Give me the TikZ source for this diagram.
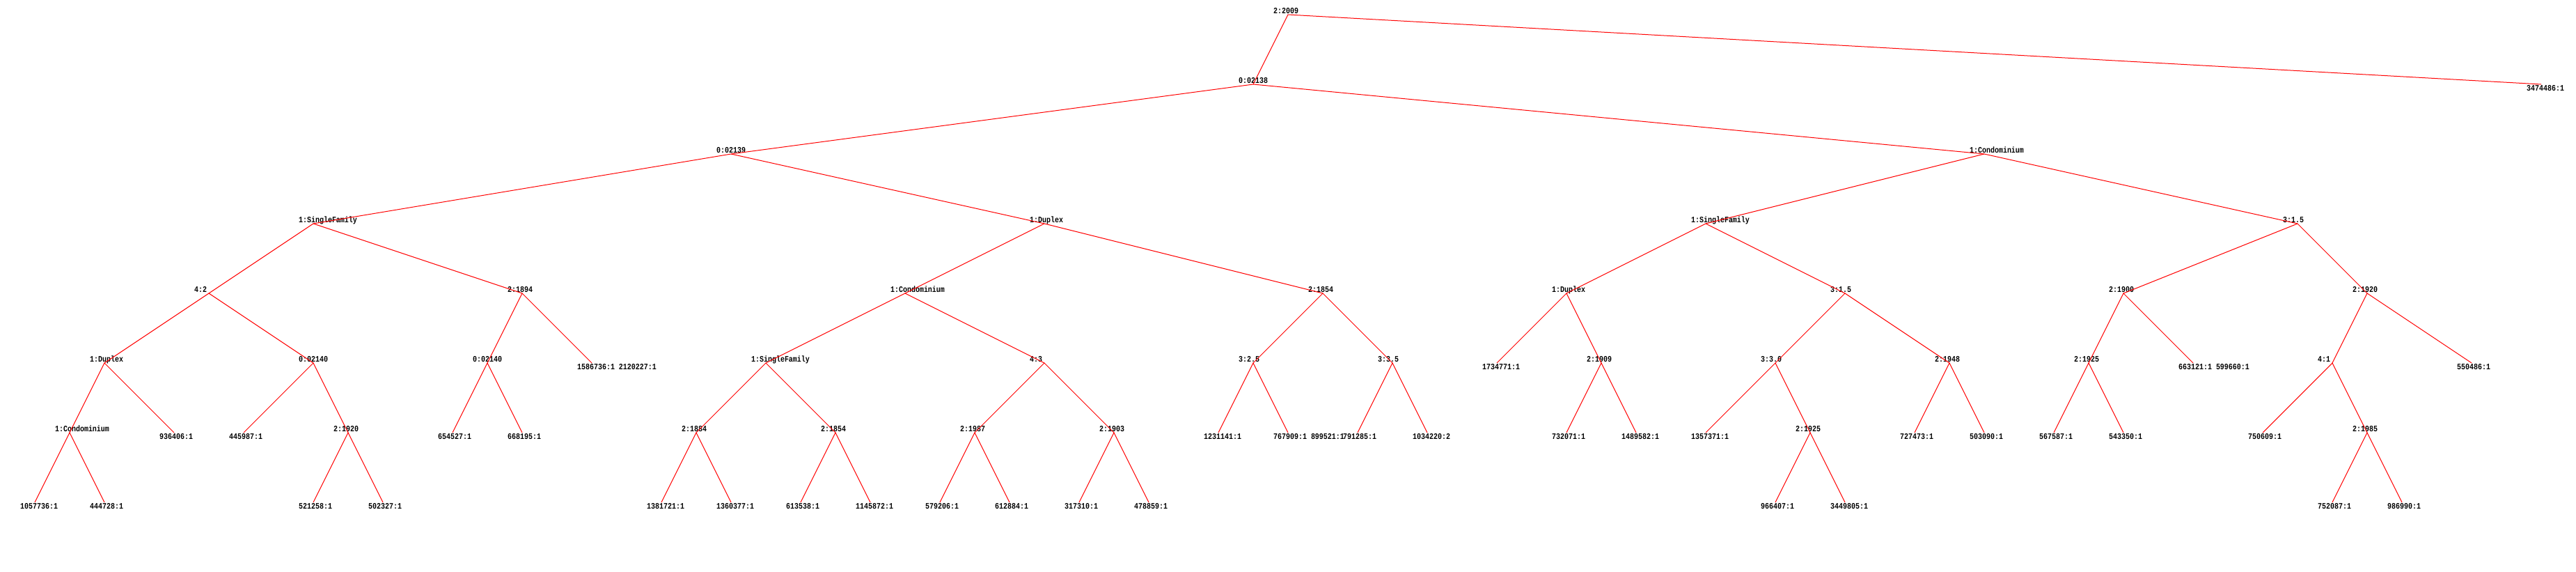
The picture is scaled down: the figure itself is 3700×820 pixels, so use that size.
\documentclass[tikz,border=0pt]{standalone}
\usepackage{fontspec}
\newfontfamily\treefont[FakeStretch=0.83]{Liberation Mono}
\begin{document}
\begin{tikzpicture}[x=1pt,y=-1pt,
    edge/.style={red,line width=1pt},
    inl/.style={anchor=base west,inner sep=0pt,xshift=-21pt,yshift=2pt,
                font=\treefont\bfseries\fontsize{12}{12}\selectfont},
    lf/.style={anchor=north west,inner sep=0pt,xshift=-21pt,yshift=-1.5pt,
               font=\treefont\bfseries\fontsize{12}{12}\selectfont}]
  \useasboundingbox[fill=white] (0,0) rectangle (3700,820);

  % level 0 and 1
  \path (1850,21)  coordinate (r)  node[inl] (r-t)  {2:2009};
  \path (1800,121) coordinate (r0) node[inl] (r0-t) {0:02138};
  \path (3650,121) coordinate (r1) node[lf]  (r1-t) {3474486:1};
  % level 2
  \path (1050,221) coordinate (r00) node[inl] (r00-t) {0:02139};
  \path (2850,221) coordinate (r01) node[inl] (r01-t) {1:Condominium};
  % level 3
  \path (450,321)  coordinate (r000) node[inl] (r000-t) {1:SingleFamily};
  \path (1500,321) coordinate (r001) node[inl] (r001-t) {1:Duplex};
  \path (2450,321) coordinate (r010) node[inl] (r010-t) {1:SingleFamily};
  \path (3300,321) coordinate (r011) node[inl] (r011-t) {3:1.5};
  % level 4
  \path (300,421)  coordinate (r0000) node[inl] (r0000-t) {4:2};
  \path (750,421)  coordinate (r0001) node[inl] (r0001-t) {2:1894};
  \path (1300,421) coordinate (r0010) node[inl] (r0010-t) {1:Condominium};
  \path (1900,421) coordinate (r0011) node[inl] (r0011-t) {2:1854};
  \path (2250,421) coordinate (r0100) node[inl] (r0100-t) {1:Duplex};
  \path (2650,421) coordinate (r0101) node[inl] (r0101-t) {3:1.5};
  \path (3050,421) coordinate (r0110) node[inl] (r0110-t) {2:1900};
  \path (3400,421) coordinate (r0111) node[inl] (r0111-t) {2:1920};
  % level 5
  \path (150,521)  coordinate (r00000) node[inl] (r00000-t) {1:Duplex};
  \path (450,521)  coordinate (r00001) node[inl] (r00001-t) {0:02140};
  \path (700,521)  coordinate (r00010) node[inl] (r00010-t) {0:02140};
  \path (850,521)  coordinate (r00011) node[lf]  (r00011-t) {1586736:1 2120227:1};
  \path (1100,521) coordinate (r00100) node[inl] (r00100-t) {1:SingleFamily};
  \path (1500,521) coordinate (r00101) node[inl] (r00101-t) {4:3};
  \path (1800,521) coordinate (r00110) node[inl] (r00110-t) {3:2.5};
  \path (2000,521) coordinate (r00111) node[inl] (r00111-t) {3:3.5};
  \path (2150,521) coordinate (r01000) node[lf]  (r01000-t) {1734771:1};
  \path (2300,521) coordinate (r01001) node[inl] (r01001-t) {2:1909};
  \path (2550,521) coordinate (r01010) node[inl] (r01010-t) {3:3.0};
  \path (2800,521) coordinate (r01011) node[inl] (r01011-t) {2:1948};
  \path (3000,521) coordinate (r01100) node[inl] (r01100-t) {2:1925};
  \path (3150,521) coordinate (r01101) node[lf]  (r01101-t) {663121:1 599660:1};
  \path (3350,521) coordinate (r01110) node[inl] (r01110-t) {4:1};
  \path (3550,521) coordinate (r01111) node[lf]  (r01111-t) {550486:1};
  % level 6
  \path (100,621)  coordinate (r000000) node[inl] (r000000-t) {1:Condominium};
  \path (250,621)  coordinate (r000001) node[lf]  (r000001-t) {936406:1};
  \path (350,621)  coordinate (r000010) node[lf]  (r000010-t) {445987:1};
  \path (500,621)  coordinate (r000011) node[inl] (r000011-t) {2:1920};
  \path (650,621)  coordinate (r000100) node[lf]  (r000100-t) {654527:1};
  \path (750,621)  coordinate (r000101) node[lf]  (r000101-t) {668195:1};
  \path (1000,621) coordinate (r001000) node[inl] (r001000-t) {2:1884};
  \path (1200,621) coordinate (r001001) node[inl] (r001001-t) {2:1854};
  \path (1400,621) coordinate (r001010) node[inl] (r001010-t) {2:1987};
  \path (1600,621) coordinate (r001011) node[inl] (r001011-t) {2:1903};
  \path (1750,621) coordinate (r001100) node[lf]  (r001100-t) {1231141:1};
  \path (1850,621) coordinate (r001101) node[lf]  (r001101-t) {767909:1 899521:1};
  \path (1950,621) coordinate (r001110) node[lf]  (r001110-t) {791285:1};
  \path (2050,621) coordinate (r001111) node[lf]  (r001111-t) {1034220:2};
  \path (2250,621) coordinate (r010010) node[lf]  (r010010-t) {732071:1};
  \path (2350,621) coordinate (r010011) node[lf]  (r010011-t) {1489582:1};
  \path (2450,621) coordinate (r010100) node[lf]  (r010100-t) {1357371:1};
  \path (2600,621) coordinate (r010101) node[inl] (r010101-t) {2:1925};
  \path (2750,621) coordinate (r010110) node[lf]  (r010110-t) {727473:1};
  \path (2850,621) coordinate (r010111) node[lf]  (r010111-t) {503090:1};
  \path (2950,621) coordinate (r011000) node[lf]  (r011000-t) {567587:1};
  \path (3050,621) coordinate (r011001) node[lf]  (r011001-t) {543350:1};
  \path (3250,621) coordinate (r011100) node[lf]  (r011100-t) {750609:1};
  \path (3400,621) coordinate (r011101) node[inl] (r011101-t) {2:1985};
  % level 7
  \path (50,721)   coordinate (r0000000) node[lf] (r0000000-t) {1057736:1};
  \path (150,721)  coordinate (r0000001) node[lf] (r0000001-t) {444728:1};
  \path (450,721)  coordinate (r0000110) node[lf] (r0000110-t) {521258:1};
  \path (550,721)  coordinate (r0000111) node[lf] (r0000111-t) {502327:1};
  \path (950,721)  coordinate (r0010000) node[lf] (r0010000-t) {1381721:1};
  \path (1050,721) coordinate (r0010001) node[lf] (r0010001-t) {1360377:1};
  \path (1150,721) coordinate (r0010010) node[lf] (r0010010-t) {613538:1};
  \path (1250,721) coordinate (r0010011) node[lf] (r0010011-t) {1145872:1};
  \path (1350,721) coordinate (r0010100) node[lf] (r0010100-t) {579206:1};
  \path (1450,721) coordinate (r0010101) node[lf] (r0010101-t) {612884:1};
  \path (1550,721) coordinate (r0010110) node[lf] (r0010110-t) {317310:1};
  \path (1650,721) coordinate (r0010111) node[lf] (r0010111-t) {478859:1};
  \path (2550,721) coordinate (r0101010) node[lf] (r0101010-t) {966407:1};
  \path (2650,721) coordinate (r0101011) node[lf] (r0101011-t) {3449805:1};
  \path (3350,721) coordinate (r0111010) node[lf] (r0111010-t) {752087:1};
  \path (3450,721) coordinate (r0111011) node[lf] (r0111011-t) {986990:1};

  % branches: left child -- parent -- right child
  \draw[edge] (r0) -- (r) -- (r1);
  \draw[edge] (r00) -- (r0) -- (r01);
  \draw[edge] (r000) -- (r00) -- (r001);
  \draw[edge] (r010) -- (r01) -- (r011);
  \draw[edge] (r0000) -- (r000) -- (r0001);
  \draw[edge] (r0010) -- (r001) -- (r0011);
  \draw[edge] (r0100) -- (r010) -- (r0101);
  \draw[edge] (r0110) -- (r011) -- (r0111);
  \draw[edge] (r00000) -- (r0000) -- (r00001);
  \draw[edge] (r00010) -- (r0001) -- (r00011);
  \draw[edge] (r00100) -- (r0010) -- (r00101);
  \draw[edge] (r00110) -- (r0011) -- (r00111);
  \draw[edge] (r01000) -- (r0100) -- (r01001);
  \draw[edge] (r01010) -- (r0101) -- (r01011);
  \draw[edge] (r01100) -- (r0110) -- (r01101);
  \draw[edge] (r01110) -- (r0111) -- (r01111);
  \draw[edge] (r000000) -- (r00000) -- (r000001);
  \draw[edge] (r000010) -- (r00001) -- (r000011);
  \draw[edge] (r000100) -- (r00010) -- (r000101);
  \draw[edge] (r001000) -- (r00100) -- (r001001);
  \draw[edge] (r001010) -- (r00101) -- (r001011);
  \draw[edge] (r001100) -- (r00110) -- (r001101);
  \draw[edge] (r001110) -- (r00111) -- (r001111);
  \draw[edge] (r010010) -- (r01001) -- (r010011);
  \draw[edge] (r010100) -- (r01010) -- (r010101);
  \draw[edge] (r010110) -- (r01011) -- (r010111);
  \draw[edge] (r011000) -- (r01100) -- (r011001);
  \draw[edge] (r011100) -- (r01110) -- (r011101);
  \draw[edge] (r0000000) -- (r000000) -- (r0000001);
  \draw[edge] (r0000110) -- (r000011) -- (r0000111);
  \draw[edge] (r0010000) -- (r001000) -- (r0010001);
  \draw[edge] (r0010010) -- (r001001) -- (r0010011);
  \draw[edge] (r0010100) -- (r001010) -- (r0010101);
  \draw[edge] (r0010110) -- (r001011) -- (r0010111);
  \draw[edge] (r0101010) -- (r010101) -- (r0101011);
  \draw[edge] (r0111010) -- (r011101) -- (r0111011);
\end{tikzpicture}
\end{document}
